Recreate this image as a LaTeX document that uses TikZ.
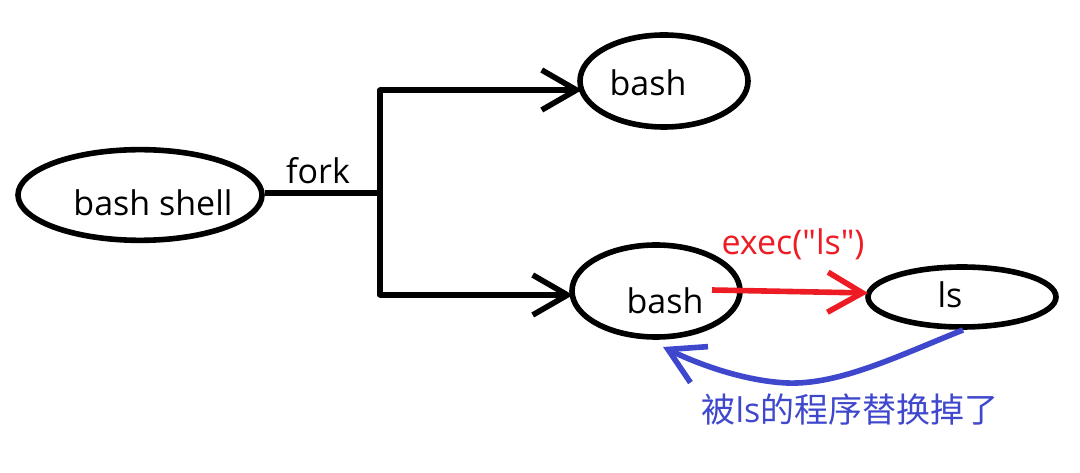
\documentclass[tikz,border=0pt]{standalone}
\usepackage{fontspec}
\setmainfont{Open Sans}[Ligatures=TeXOff]
\newfontfamily\cjk{Noto Sans CJK SC}
\usetikzlibrary{shapes.geometric,arrows.meta}
\definecolor{pred}{HTML}{ED1C24}
\definecolor{pblue}{HTML}{3F48CC}
\tikzset{
  oval/.style={ellipse, draw=black, line width=4.2pt, inner sep=0pt},
  conn/.style={line width=4.2pt},
  barb/.style={-{Straight Barb[length=26pt,width=30pt,line width=4.2pt]}},
  lbl/.style={font=\fontsize{25.5}{29}\selectfont, inner sep=0pt},
}
\begin{document}
\begin{tikzpicture}[x=0.75pt,y=-0.75pt]
\useasboundingbox (0,0) rectangle (1080,473);
\node[oval, minimum width=183pt, minimum height=68pt] (bs) at (140,195) {};
\node[lbl, anchor=center] (bst) at (153,203) {bash shell};
\node[oval, minimum width=126pt, minimum height=69pt] (b1) at (664,81) {};
\node[lbl] (b1t) at (648,83) {bash};
\node[oval, minimum width=126pt, minimum height=69pt] (b2) at (656,291) {};
\node[lbl] (b2t) at (665,301) {bash};
\node[oval, minimum width=141pt, minimum height=45pt] (ls) at (962,297) {};
\node[lbl] (lst) at (950,295) {ls};
\node[lbl] (fork) at (318,171) {fork};
\node[lbl, text=pred] (exec) at (793,244) {exec("ls")};
\node[lbl, text=pblue] (rep) at (850,410) {{\cjk 被}ls{\cjk 的程序替换掉了}};
\coordinate (j) at (380,193);
\coordinate (j1) at (380,90);
\coordinate (j2) at (380,295);
\coordinate (t1) at (582,90);
\coordinate (t2) at (573,295);
\coordinate (rs) at (712,290);
\coordinate (re) at (868,293);
\coordinate (bs1) at (963,330);
\coordinate (bm) at (787,383);
\coordinate (be) at (663,347);
\draw[conn] (bs.east |- j) -- (j);
\draw[conn, line cap=round] (j1) -- (j2);
\draw[conn, barb] (j1) -- (t1);
\draw[conn, barb] (j2) -- (t2);
\draw[conn, barb, pred] (rs) -- (re);
\draw[conn, barb, pblue] (bs1) .. controls (900,355) and (840,385) .. (bm) .. controls (745,381) and (700,365) .. (be);
\end{tikzpicture}
\end{document}
